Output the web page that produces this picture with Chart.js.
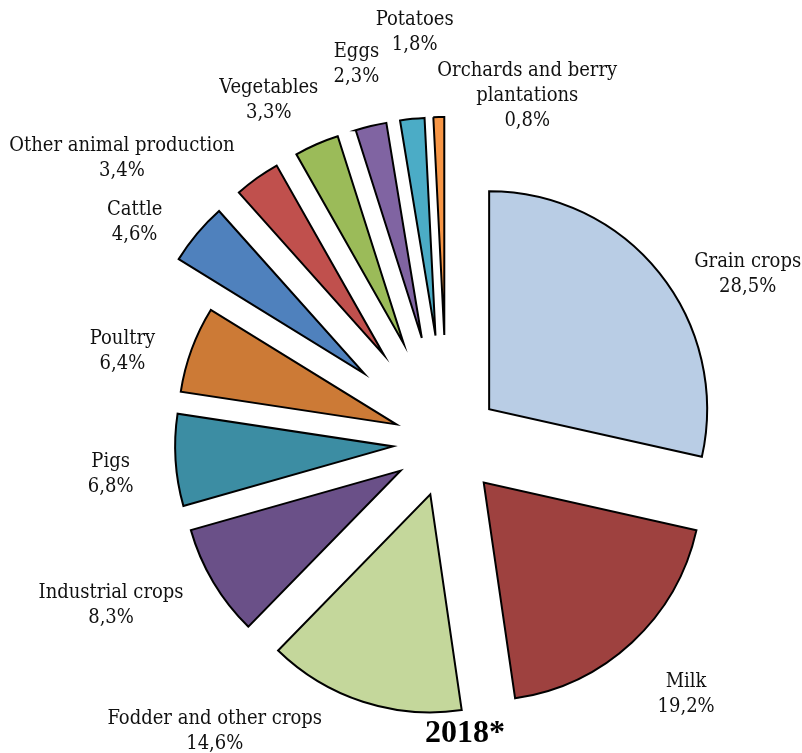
<!DOCTYPE html>
<html lang="en">
<head>
    <meta charset="UTF-8">
    <title>Structure 2018</title>
    <script src="https://cdn.jsdelivr.net/npm/chart.js@4"></script>
    <style>
        body {
            margin: 0;
            background: #fff;
        }
        canvas {
            display: block;
        }
    </style>
</head>
<body>
    <canvas id="pieChart" width="802" height="753"></canvas>

    <script>
        // data
        const categories = ['Grain crops', 'Milk', 'Fodder and other crops', 'Industrial crops', 'Pigs', 'Poultry',
            'Cattle', 'Other animal production', 'Vegetables', 'Eggs', 'Potatoes', 'Orchards and berry\nplantations'];
        const shares = [28.5, 19.2, 14.6, 8.3, 6.8, 6.4, 4.6, 3.4, 3.3, 2.3, 1.8, 0.8];
        const titleText = '2018*';

        // styling
        const colors = ['#B9CDE5', '#9E413F', '#C4D79B', '#6A5088', '#3C8DA3', '#CC7A36',
            '#4F81BD', '#C0504D', '#9BBB59', '#8064A2', '#4BACC6', '#F79646'];
        const explode = [54, 54, 54, 54, 54, 54, 108, 108, 108, 108, 108, 108];
        const labelNudge = [[40, 40], [12, 6], [-129, -29], [-49, -9], [-3, 10], [-11, 23],
            [-15, 28], [-99, 31], [-23, 13], [0, -1], [9, -25], [90, 41]];
        const labelFont = '20px "DejaVu Serif Condensed", "DejaVu Serif"';
        const lineHeight = 25;

        function fmt(v) {
            return v.toFixed(1).replace('.', ',') + '%';
        }

        // move each slice out along its middle angle
        const explodePlugin = {
            id: 'explode',
            afterDatasetsUpdate(chart) {
                const arcs = chart.getDatasetMeta(0).data;
                arcs.forEach((arc, i) => {
                    const mid = (arc.startAngle + arc.endAngle) / 2;
                    arc.x += Math.cos(mid) * explode[i];
                    arc.y += Math.sin(mid) * explode[i];
                });
            }
        };

        const labelPlugin = {
            id: 'outsideLabels',
            afterDraw(chart) {
                const ctx = chart.ctx;
                const arcs = chart.getDatasetMeta(0).data;
                ctx.save();
                ctx.font = labelFont;
                ctx.fillStyle = '#111';
                ctx.textAlign = 'center';
                ctx.textBaseline = 'middle';
                arcs.forEach((arc, i) => {
                    const mid = (arc.startAngle + arc.endAngle) / 2;
                    const dist = arc.outerRadius + 62;
                    const cx = arc.x + Math.cos(mid) * dist + labelNudge[i][0];
                    const cy = arc.y + Math.sin(mid) * dist + labelNudge[i][1];
                    const lines = categories[i].split('\n').concat(fmt(shares[i]));
                    lines.forEach((line, k) => {
                        ctx.fillText(line, cx, cy + (k - (lines.length - 1) / 2) * lineHeight);
                    });
                });

                ctx.font = 'bold 32px "Liberation Serif"';
                ctx.fillStyle = '#000';
                ctx.fillText(titleText, 465, 734);
                ctx.restore();
            }
        };

        new Chart(document.getElementById('pieChart'), {
            type: 'pie',
            data: {
                labels: categories,
                datasets: [{
                    data: shares,
                    backgroundColor: colors,
                    borderColor: '#000',
                    borderWidth: 2,
                    borderJoinStyle: 'miter'
                }]
            },
            options: {
                responsive: false,
                animation: false,
                radius: 218,
                layout: {
                    padding: { left: 92, top: 133, right: 0, bottom: 0 }
                },
                plugins: {
                    legend: { display: false },
                    tooltip: { enabled: false }
                }
            },
            plugins: [explodePlugin, labelPlugin]
        });
    </script>
</body>
</html>
